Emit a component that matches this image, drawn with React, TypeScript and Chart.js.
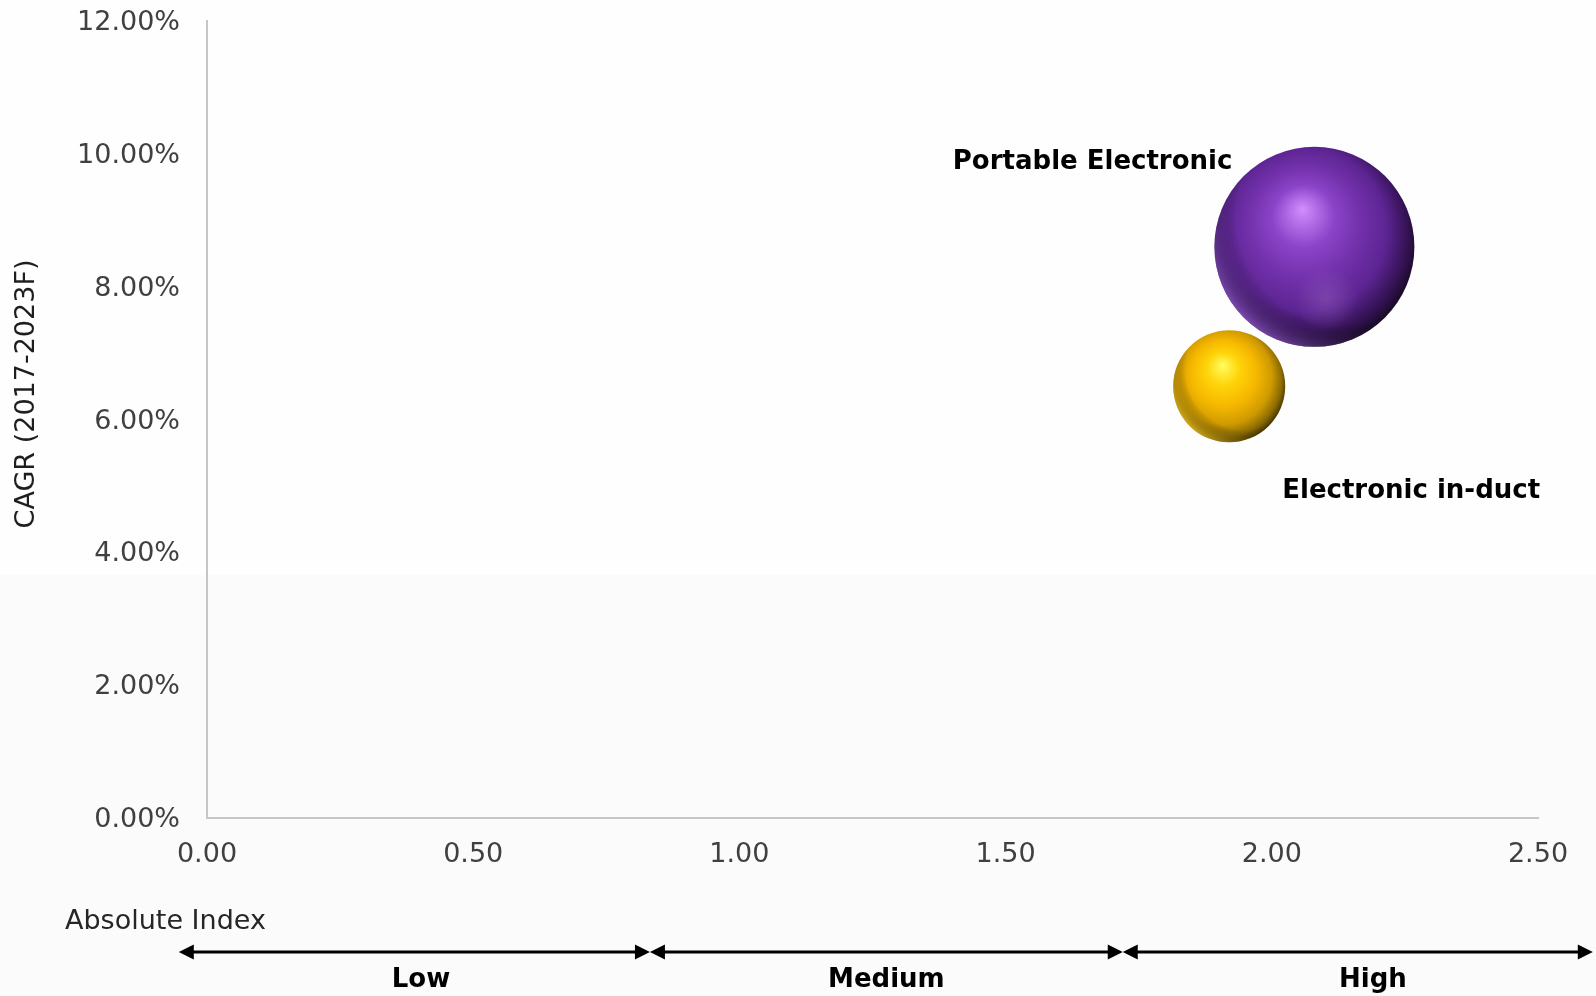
import React, { useEffect, useRef } from "react";
import { Chart, registerables } from "chart.js";

Chart.register(...registerables);

// ---- data ----
const seriesNames = ["Portable Electronic", "Electronic in-duct"];
const absoluteIndex = [2.08, 1.92];
const cagrPct = [8.6, 6.5];
const bubbleSize = [100, 56];
const xTickStep = 0.5;
const yTickStep = 2;
const xMax = 2.5;
const yMax = 12;
const yAxisTitle = "CAGR (2017-2023F)";
const xAxisTitle = "Absolute Index";
const bandNames = ["Low", "Medium", "High"];
const bandEdges = [-0.053, 0.832, 1.72, 2.603];
const bandLabelCenters = [0.402, 1.276, 2.19];

// ---- styles ----
const FONT = "'DejaVu Sans', Verdana, sans-serif";
const seriesStops: [number, string][][] = [
  [
    [0, "#d28eff"],
    [0.28, "#8b43c8"],
    [0.5, "#7231ab"],
    [0.73, "#5c2492"],
    [0.89, "#38145a"],
    [1, "#1a0a2a"],
  ],
  [
    [0, "#ffff60"],
    [0.26, "#ffd40a"],
    [0.52, "#f6b800"],
    [0.76, "#cf9a00"],
    [0.91, "#8c6b00"],
    [1, "#4a3800"],
  ],
];
const rimColors = ["rgba(160,100,225,0.65)", "rgba(255,212,40,0.6)"];
const labelOffsets = [
  { dx: -82, dy: -78, align: "right" as CanvasTextAlign },
  { dx: 53, dy: 112, align: "left" as CanvasTextAlign },
];

const makeFill = (stops: [number, string][]) => (c: any) => {
  const chart = c.chart;
  const raw = c.raw;
  if (!raw || !chart.scales || !chart.scales.x || !chart.scales.y) return stops[2][1];
  const x = chart.scales.x.getPixelForValue(raw.x);
  const y = chart.scales.y.getPixelForValue(raw.y);
  const r = raw.r;
  if (![x, y, r].every((v) => Number.isFinite(v))) return stops[2][1];
  const g = chart.ctx.createRadialGradient(
    x - 0.12 * r,
    y - 0.38 * r,
    0,
    x - 0.08 * r,
    y - 0.1 * r,
    r * 1.12
  );
  stops.forEach(([o, col]) => g.addColorStop(o, col));
  return g;
};

const backgroundPlugin = {
  id: "bgPlugin",
  beforeDraw(chart: any) {
    const { ctx, width, height } = chart;
    ctx.save();
    ctx.fillStyle = "#fefefe";
    ctx.fillRect(0, 0, width, height);
    ctx.fillStyle = "#fbfbfb";
    ctx.fillRect(0, 575, width, height - 575);
    ctx.restore();
  },
};

const decorPlugin = {
  id: "decorPlugin",
  afterDatasetsDraw(chart: any) {
    const ctx: CanvasRenderingContext2D = chart.ctx;
    chart.data.datasets.forEach((ds: any, i: number) => {
      const meta = chart.getDatasetMeta(i);
      meta.data.forEach((el: any) => {
        const { x, y } = el;
        const r = el.options.radius;
        if (![x, y, r].every((v) => Number.isFinite(v))) return;
        ctx.save();
        ctx.beginPath();
        ctx.arc(x, y, r, 0, Math.PI * 2);
        ctx.clip();
        const g = ctx.createRadialGradient(x + 0.3 * r, y - 0.3 * r, 0, x + 0.3 * r, y - 0.3 * r, 1.42 * r);
        g.addColorStop(0, "rgba(0,0,0,0)");
        g.addColorStop(0.76, "rgba(0,0,0,0)");
        g.addColorStop(1, rimColors[i]);
        ctx.fillStyle = g;
        ctx.fillRect(x - r, y - r, 2 * r, 2 * r);
        if (i === 0) {
          const g2 = ctx.createRadialGradient(x + 0.12 * r, y + 0.52 * r, 0, x + 0.12 * r, y + 0.52 * r, 0.32 * r);
          g2.addColorStop(0, "rgba(175,125,205,0.3)");
          g2.addColorStop(1, "rgba(175,125,205,0)");
          ctx.fillStyle = g2;
          ctx.fillRect(x - r, y - r, 2 * r, 2 * r);
        }
        ctx.restore();
        // label
        const off = labelOffsets[i];
        ctx.save();
        ctx.font = `bold 26px ${FONT}`;
        ctx.fillStyle = "#000000";
        ctx.textAlign = off.align;
        ctx.textBaseline = "alphabetic";
        ctx.fillText(ds.label, x + off.dx, y + off.dy);
        ctx.restore();
      });
    });
  },
  afterDraw(chart: any) {
    const ctx: CanvasRenderingContext2D = chart.ctx;
    const xs = chart.scales.x;
    ctx.save();
    // y axis title
    ctx.translate(27, 394);
    ctx.rotate(-Math.PI / 2);
    ctx.font = `27px ${FONT}`;
    ctx.fillStyle = "#1e1e1e";
    ctx.textAlign = "center";
    ctx.textBaseline = "middle";
    ctx.fillText(yAxisTitle, 0, 0);
    ctx.restore();

    ctx.save();
    ctx.font = `27px ${FONT}`;
    ctx.fillStyle = "#262626";
    ctx.textAlign = "left";
    ctx.textBaseline = "alphabetic";
    ctx.fillText(xAxisTitle, 65, 929);

    // band arrows
    const ay = 952;
    ctx.strokeStyle = "#000";
    ctx.fillStyle = "#000";
    ctx.lineWidth = 3;
    for (let i = 0; i < bandNames.length; i++) {
      const x1 = xs.getPixelForValue(bandEdges[i]);
      const x2 = xs.getPixelForValue(bandEdges[i + 1]);
      ctx.beginPath();
      ctx.moveTo(x1 + 8, ay);
      ctx.lineTo(x2 - 8, ay);
      ctx.stroke();
      ctx.beginPath();
      ctx.moveTo(x1, ay);
      ctx.lineTo(x1 + 15, ay - 7.5);
      ctx.lineTo(x1 + 15, ay + 7.5);
      ctx.closePath();
      ctx.fill();
      ctx.beginPath();
      ctx.moveTo(x2, ay);
      ctx.lineTo(x2 - 15, ay - 7.5);
      ctx.lineTo(x2 - 15, ay + 7.5);
      ctx.closePath();
      ctx.fill();
    }
    ctx.font = `bold 26px ${FONT}`;
    ctx.textAlign = "center";
    ctx.textBaseline = "alphabetic";
    bandNames.forEach((b, i) => {
      ctx.fillText(b, xs.getPixelForValue(bandLabelCenters[i]), 987);
    });
    ctx.restore();
  },
};

export default function App() {
  const canvasRef = useRef<HTMLCanvasElement | null>(null);

  useEffect(() => {
    if (!canvasRef.current) return;
    Chart.defaults.font.family = FONT;
    const datasets = seriesNames.map((name, i) => ({
      label: name,
      data: [{ x: absoluteIndex[i], y: cagrPct[i], r: bubbleSize[i] }],
      backgroundColor: makeFill(seriesStops[i]),
      borderWidth: 0,
      borderColor: "rgba(0,0,0,0)",
    }));
    const chart = new Chart(canvasRef.current, {
      type: "bubble",
      data: { datasets },
      options: {
        animation: false,
        responsive: false,
        events: [],
        clip: false as any,
        layout: { autoPadding: false, padding: { left: 0, top: 21, right: 58, bottom: 0 } },
        plugins: {
          legend: { display: false },
          tooltip: { enabled: false },
          title: { display: false },
        },
        scales: {
          x: {
            type: "linear",
            min: 0,
            max: xMax,
            grid: { display: false, drawTicks: false, tickLength: 0 },
            border: { display: true, color: "#c6c6c6", width: 2 },
            ticks: {
              stepSize: xTickStep,
              padding: 21,
              color: "#404040",
              font: { size: 27, family: FONT, lineHeight: 1.2 },
              maxRotation: 0,
              autoSkip: false,
              callback: (v: any) => Number(v).toFixed(2),
            },
            afterFit: (s: any) => {
              s.height = 178;
              s.paddingLeft = 0;
              s.paddingRight = 0;
            },
          },
          y: {
            type: "linear",
            min: 0,
            max: yMax,
            grid: { display: false, drawTicks: false, tickLength: 0 },
            border: { display: true, color: "#c6c6c6", width: 2 },
            ticks: {
              stepSize: yTickStep,
              padding: 27,
              labelOffset: 2,
              color: "#404040",
              font: { size: 27, family: FONT, lineHeight: 1.2 },
              autoSkip: false,
              callback: (v: any) => Number(v).toFixed(2) + "%",
            },
            afterFit: (s: any) => {
              s.width = 207;
              s.paddingTop = 0;
              s.paddingBottom = 0;
            },
          },
        },
      },
      plugins: [backgroundPlugin, decorPlugin],
    });
    return () => chart.destroy();
  }, []);

  return (
    <div style={{ position: "absolute", left: 0, top: 0, width: 1596, height: 996, overflow: "hidden" }}>
      <canvas ref={canvasRef} width={1596} height={996} style={{ display: "block", width: 1596, height: 996 }} />
    </div>
  );
}
